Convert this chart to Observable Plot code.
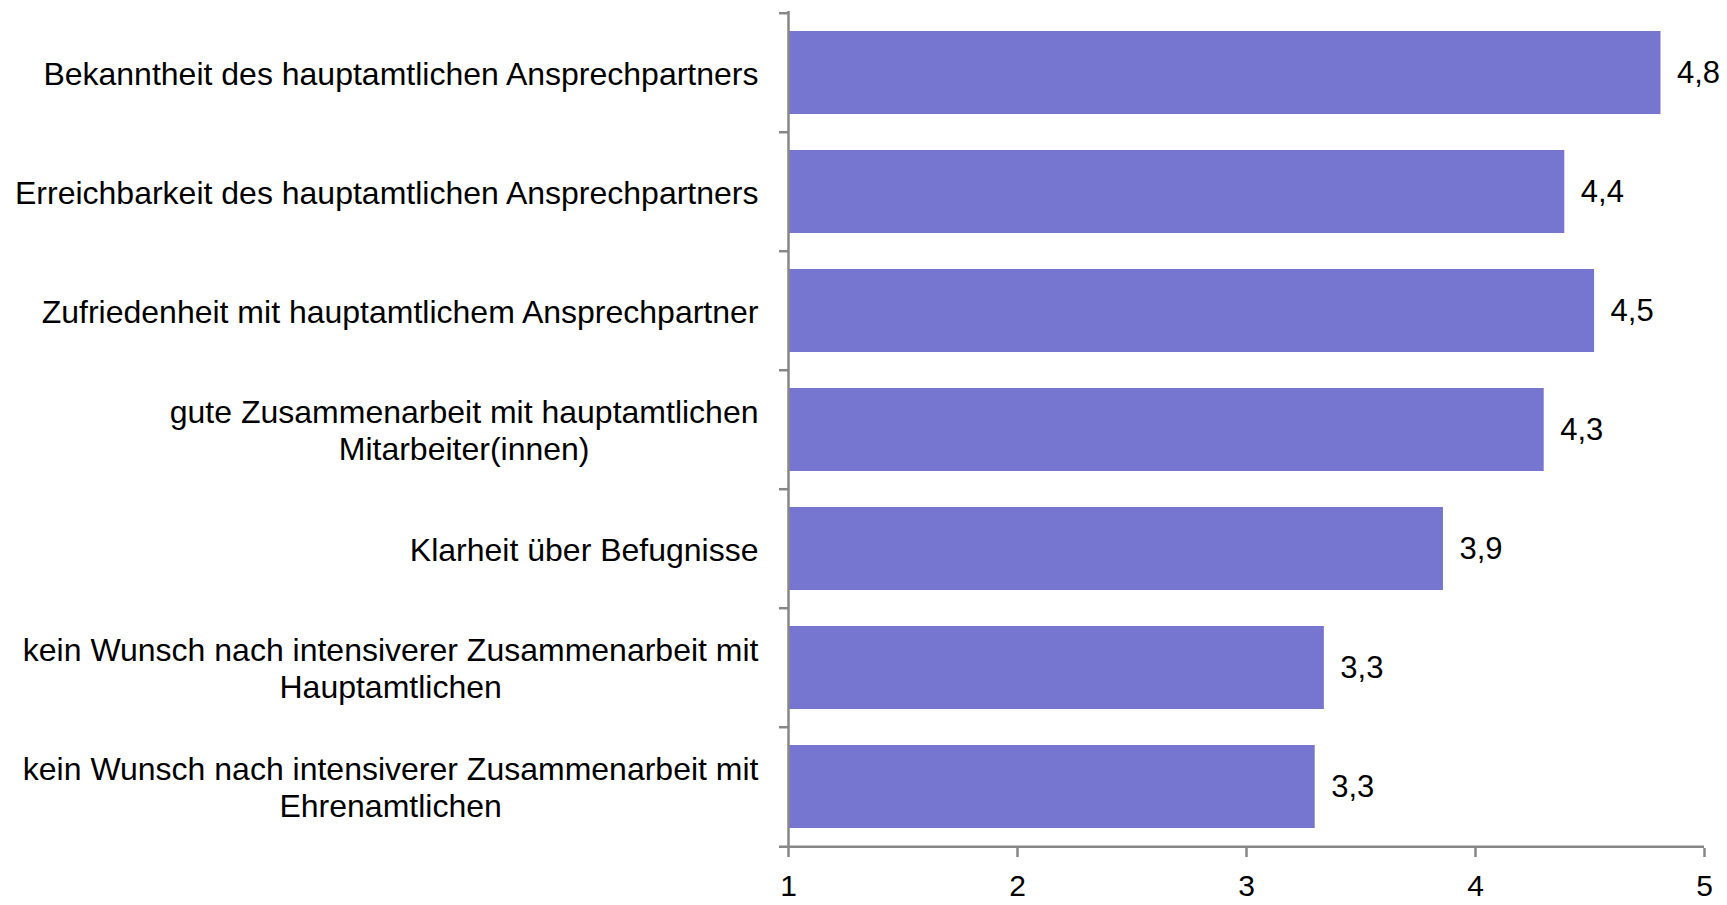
<!DOCTYPE html>
<html><head><meta charset="utf-8">
<script src="https://cdn.jsdelivr.net/npm/d3@7"></script>
<script src="https://cdn.jsdelivr.net/npm/@observablehq/plot@0.6"></script>
<style>html,body{margin:0;padding:0;background:#fff;} svg{display:block}</style>
</head><body><div id="chart"></div>
<script>
const categories = [
  "Bekanntheit des hauptamtlichen Ansprechpartners",
  "Erreichbarkeit des hauptamtlichen Ansprechpartners",
  "Zufriedenheit mit hauptamtlichem Ansprechpartner",
  "gute Zusammenarbeit mit hauptamtlichen\nMitarbeiter(innen)",
  "Klarheit über Befugnisse",
  "kein Wunsch nach intensiverer Zusammenarbeit mit\nHauptamtlichen",
  "kein Wunsch nach intensiverer Zusammenarbeit mit\nEhrenamtlichen"
];
const values = [4.81, 4.39, 4.52, 4.30, 3.86, 3.34, 3.30];
const xTicks = [1, 2, 3, 4, 5];
const xDomain = [1, 5];

const data = categories.map((c, i) => ({category: c, value: values[i]}));

const W = 1727, H = 905, mT = 11, mB = 57, mL = 788, mR = 23;
const step = (H - mT - mB) / categories.length;
const fmt = v => d3.format(".1f")(v).replace(".", ",");
const axisColor = "#878787", barColor = "#7676d0";
const font = "Arial, 'Liberation Sans', sans-serif";

const chart = Plot.plot({
  width: W, height: H,
  marginTop: mT, marginBottom: mB, marginLeft: mL, marginRight: mR,
  style: {fontFamily: font, fontSize: "32px", color: "#000", background: "#fff"},
  x: {domain: xDomain},
  y: {domain: categories, paddingInner: 0.3, paddingOuter: 0.15},
  marks: [
    Plot.barX(data, {x1: () => xDomain[0], x2: "value", y: "category", fill: barColor}),
    Plot.text(data, {x: "value", y: "category", text: d => fmt(d.value), textAnchor: "start", dx: 16, fill: "#000", fontSize: 31}),
    // y axis line
    Plot.ruleX([xDomain[0]], {stroke: axisColor, strokeWidth: 2.5}),
    // boundary ticks on y axis
    Plot.ruleY(categories, {y: d => d, x1: () => xDomain[0], x2: () => xDomain[0], dy: -step / 2, insetLeft: -9, stroke: axisColor, strokeWidth: 2.5}),
    // x axis baseline
    Plot.ruleY([categories[categories.length - 1]], {y: d => d, x1: () => xDomain[0], x2: () => xDomain[1], dy: step / 2, insetLeft: -9, stroke: axisColor, strokeWidth: 2.5}),
    Plot.axisX({ticks: xTicks, tickSize: 9, tickPadding: 17, stroke: axisColor, strokeWidth: 2.5, fill: "#000", fontSize: 30, tickFormat: d => String(d), label: null}),
    Plot.axisY({ticks: [], label: null}),
    Plot.text(categories, {y: d => d, text: d => d, frameAnchor: "left", textAnchor: "end", dx: -30, lineHeight: 1.16, fill: "#000", fontSize: 32, className: "ylab"})
  ]
});
document.getElementById("chart").appendChild(chart);

// center-align multi-line category labels
d3.select(chart).selectAll("g.ylab text").each(function () {
  const tspans = this.querySelectorAll("tspan");
  if (tspans.length < 2) return;
  let w = 0;
  tspans.forEach(t => { w = Math.max(w, t.getComputedTextLength()); });
  this.setAttribute("text-anchor", "middle");
  tspans.forEach(t => t.setAttribute("x", -w / 2));
});
</script>
</body></html>
